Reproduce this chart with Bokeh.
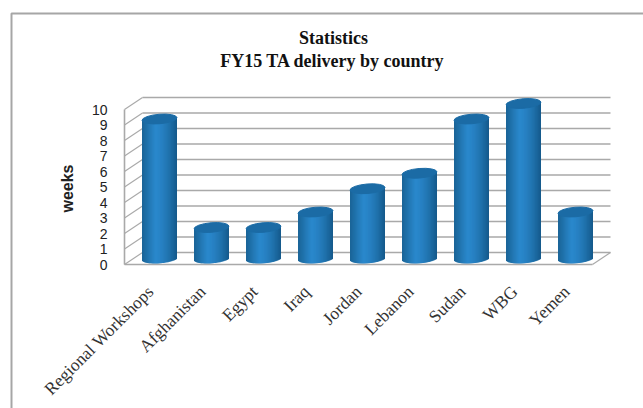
from math import pi, sqrt
from bokeh.plotting import figure
from bokeh.models import FixedTicker, LinearAxis, Range1d
from bokeh.core.properties import value
from bokeh.embed import file_html
from bokeh.resources import INLINE

countries = ["Regional Workshops", "Afghanistan", "Egypt", "Iraq", "Jordan",
             "Lebanon", "Sudan", "WBG", "Yemen"]
weeks = [9, 2, 2, 3, 4.5, 5.5, 9, 10, 3]
y_ticks = list(range(0, 11))
title_lines = ["Statistics", "FY15 TA delivery by country"]
y_title = "weeks"

W, H = 643, 408
PX_X, PX_Y = 52.0, 15.5
FL, FB = 124, 264          # picture position of the chart's origin corner
SERIF = "Liberation Serif"
SANS = "Liberation Sans"
GRID = "#a9a9a9"


def sx(x):
    return 0.5 + (x - FL) / PX_X


def sy(y):
    return (FB - y) / PX_Y


p = figure(width=W, height=H, output_backend="svg", toolbar_location=None,
           x_range=Range1d(sx(0), sx(W)), y_range=Range1d(sy(H), sy(0)),
           x_axis_location=None, y_axis_location=None,
           min_border_left=0, min_border_right=0,
           min_border_top=0, min_border_bottom=0)
p.outline_line_color = None
p.background_fill_color = "white"
p.border_fill_color = "white"
p.grid.visible = False

dx, dy = 18 / PX_X, 12 / PX_Y
right_back = 0.5 + 486 / PX_X
n = len(countries)

# chart area border: only its top and left edges fall inside the window
p.line([sx(11), sx(11), sx(W + 5)], [sy(H + 5), sy(13), sy(13)],
       line_color="#a6a6a6", line_width=2)

# back wall rules and side wall diagonals
p.segment([0.5 + dx] * len(y_ticks), [t + dy for t in y_ticks],
          [right_back] * len(y_ticks), [t + dy for t in y_ticks],
          line_color=GRID, line_width=1.6)
p.segment([0.5] * len(y_ticks), y_ticks, [0.5 + dx] * len(y_ticks),
          [t + dy for t in y_ticks], line_color=GRID, line_width=1.2)
p.segment([n + 0.5], [0], [right_back], [dy], line_color=GRID, line_width=1.2)


# cylinders
def mix(a, b, t):
    return tuple(a[i] + (b[i] - a[i]) * t for i in range(3))


dark_l, light, dark_r = (26, 100, 150), (42, 136, 204), (21, 89, 138)
STRIPS = 30
bw, eh = 35 / PX_X, 9.5 / PX_Y
base = 6 / PX_Y
tilt = 1.5 / PX_Y
left, right, bottom, top, cols = [], [], [], [], []
for i, v in enumerate(weeks):
    cx = i + 1 + dx / 2
    for k in range(STRIPS):
        u0, u1 = -1 + 2 * k / STRIPS, -1 + 2 * (k + 1) / STRIPS
        um = (u0 + u1) / 2
        if um < -0.25:
            c = mix(dark_l, light, (um + 1) / 0.75)
        else:
            c = mix(light, dark_r, ((um + 0.25) / 1.25) ** 1.6)
        left.append(cx + u0 * bw / 2)
        right.append(cx + min(1.0, u1 + 2 / STRIPS) * bw / 2)
        bottom.append(base + um * tilt - eh / 2 * sqrt(max(0, 1 - um * um)))
        top.append(base + v + um * tilt)
        cols.append("#%02x%02x%02x" % tuple(int(x) for x in c))
p.quad(left=left, right=right, bottom=bottom, top=top,
       fill_color=cols, line_color=None)
p.ellipse(x=[i + 1 + dx / 2 for i in range(n)], y=[base + v for v in weeks],
          width=bw, height=eh, angle=0.08, fill_color="#1b6ba5", line_color="#1b6ba5")

# axes, fixed at the chart's front corner
xa = LinearAxis(fixed_location=0)
xa.ticker = FixedTicker(ticks=list(range(1, n + 1)))
xa.major_label_overrides = {i + 1: c for i, c in enumerate(countries)}
xa.major_label_orientation = pi / 4
xa.major_label_text_font = SERIF
xa.major_label_text_font_size = "17.5px"
xa.major_label_text_color = "#333333"
xa.major_label_standoff = 18
xa.major_tick_line_color = None
xa.minor_tick_line_color = None
xa.axis_line_color = GRID
xa.axis_line_width = 1.6
xa.bounds = (0.5, n + 0.5)
p.add_layout(xa, "below")

ya = LinearAxis(fixed_location=0.5)
ya.ticker = FixedTicker(ticks=y_ticks)
ya.bounds = (0, 10)
ya.major_label_text_font = SANS
ya.major_label_text_font_size = "14px"
ya.major_label_text_color = "#222222"
ya.major_label_standoff = 11
ya.major_tick_line_color = None
ya.minor_tick_line_color = None
ya.axis_line_color = GRID
ya.axis_line_width = 1.6
p.add_layout(ya, "left")

# title and axis title
p.text(x=[sx(333), sx(332)], y=[sy(37), sy(60)], text=title_lines,
       text_font=value(SERIF), text_font_style="bold", text_font_size="18px",
       text_align="center", text_baseline="middle", text_color="#111111")
p.text(x=[sx(67)], y=[sy(188)], text=[y_title], angle=pi / 2,
       text_font=value(SANS), text_font_style="bold", text_font_size="16px",
       text_align="center", text_baseline="middle", text_color="#222222")

open("out.html", "w").write(file_html(p, INLINE))
